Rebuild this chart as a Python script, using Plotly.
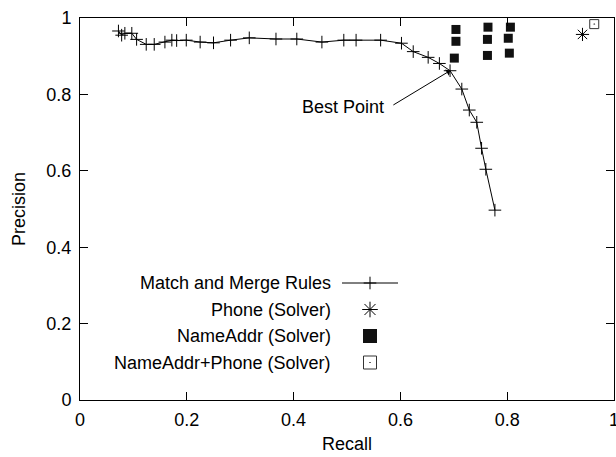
import plotly.graph_objects as go

# ---- data ----
mm_recall = [0.072, 0.078, 0.084, 0.097, 0.106, 0.124, 0.139, 0.159, 0.172, 0.181,
             0.199, 0.225, 0.250, 0.282, 0.317, 0.367, 0.406, 0.453, 0.494, 0.517,
             0.563, 0.602, 0.624, 0.652, 0.673, 0.693, 0.715, 0.729, 0.743, 0.752,
             0.760, 0.777]
mm_precision = [0.966, 0.955, 0.960, 0.960, 0.944, 0.931, 0.931, 0.937, 0.942, 0.941,
                0.942, 0.937, 0.935, 0.942, 0.948, 0.945, 0.945, 0.937, 0.942, 0.942,
                0.942, 0.934, 0.912, 0.897, 0.881, 0.862, 0.814, 0.759, 0.727, 0.659,
                0.604, 0.497]

phone_recall = [0.941]
phone_precision = [0.957]

nameaddr_recall = [0.704, 0.704, 0.701, 0.764, 0.763, 0.763, 0.806, 0.802, 0.804]
nameaddr_precision = [0.970, 0.939, 0.895, 0.976, 0.944, 0.902, 0.976, 0.947, 0.908]

both_recall = [0.963]
both_precision = [0.984]

best_recall = 0.693
best_precision = 0.862

legend_labels = ["Match and Merge Rules", "Phone (Solver)", "NameAddr (Solver)",
                 "NameAddr+Phone (Solver)"]
tick_vals = [0, 0.2, 0.4, 0.6, 0.8, 1]
tick_text = ["0", "0.2", "0.4", "0.6", "0.8", "1"]

FONT = "Liberation Sans, Arial, Helvetica, sans-serif"
FS = 18

fig = go.Figure()

fig.add_trace(go.Scatter(
    x=mm_recall, y=mm_precision, mode="lines+markers",
    line=dict(color="black", width=1),
    marker=dict(symbol="cross-thin-open", size=9, color="black",
                line=dict(color="black", width=1)),
    showlegend=False, cliponaxis=False))
fig.add_trace(go.Scatter(
    x=phone_recall, y=phone_precision, mode="markers",
    marker=dict(symbol="asterisk-open", size=11, color="black",
                line=dict(color="black", width=1)),
    showlegend=False, cliponaxis=False))
fig.add_trace(go.Scatter(
    x=nameaddr_recall, y=nameaddr_precision, mode="markers",
    marker=dict(symbol="square", size=9, color="#111111", line=dict(width=0)),
    showlegend=False, cliponaxis=False))
fig.add_trace(go.Scatter(
    x=both_recall, y=both_precision, mode="markers",
    marker=dict(symbol="square-open-dot", size=9, color="#333333",
                line=dict(color="#333333", width=1)),
    showlegend=False, cliponaxis=False))

# ---- custom gnuplot-style legend (text left, key right) on overlay axes ----
L, R, T, B = 80, 614, 18, 400
def px(xp):
    return (xp - L) / (R - L)
def py(yp):
    return (B - yp) / (B - T)

rows = [283, 309.5, 336, 362.5]
text_right = 333
key_x = 370
for lbl, yr in zip(legend_labels, rows):
    fig.add_annotation(x=px(text_right), y=py(yr), xref="paper", yref="paper",
                       text=lbl, showarrow=False, xanchor="right", yanchor="middle",
                       font=dict(family=FONT, size=FS, color="black"))

fig.add_shape(type="line", xref="paper", yref="paper",
              x0=px(342), x1=px(398), y0=py(rows[0]), y1=py(rows[0]),
              line=dict(color="black", width=1))
key_syms = [
    dict(symbol="cross-thin-open", size=9, color="black", line=dict(color="black", width=1)),
    dict(symbol="asterisk-open", size=13, color="black", line=dict(color="black", width=1)),
    dict(symbol="square", size=14, color="#111111", line=dict(width=0)),
    dict(symbol="square-open-dot", size=13, color="#333333", line=dict(color="#333333", width=1)),
]
for sym, yr in zip(key_syms, rows):
    fig.add_trace(go.Scatter(x=[px(key_x)], y=[py(yr)], mode="markers", marker=sym,
                             xaxis="x2", yaxis="y2", showlegend=False,
                             hoverinfo="skip"))

# ---- Best Point annotation ----
fig.add_annotation(x=px(386), y=py(107), xref="paper", yref="paper", text="Best Point",
                   showarrow=False, xanchor="right", yanchor="middle",
                   font=dict(family=FONT, size=FS, color="black"))
fig.add_annotation(x=best_recall, y=best_precision, xref="x", yref="y",
                   ax=0.584, ay=0.770, axref="x", ayref="y", text="",
                   showarrow=True, arrowhead=1, arrowsize=1.2, arrowwidth=1,
                   arrowcolor="black", standoff=0, startstandoff=0)

axis_common = dict(range=[0, 1], showgrid=False, zeroline=False, showline=True,
                   linecolor="black", linewidth=1, mirror="allticks",
                   ticks="inside", ticklen=8, tickwidth=1, tickcolor="black",
                   tickvals=tick_vals, ticktext=tick_text, automargin=False,
                   ticklabeloverflow="allow",
                   tickfont=dict(family=FONT, size=FS, color="black"))

fig.update_layout(
    width=616, height=457,
    margin=dict(l=L, r=616 - R, t=T, b=457 - B),
    paper_bgcolor="white", plot_bgcolor="white",
    font=dict(family=FONT, size=FS, color="black"),
    xaxis=dict(**axis_common, ticklabelstandoff=3,
               title=dict(text="Recall", standoff=8, font=dict(family=FONT, size=FS))),
    yaxis=dict(**axis_common, ticklabelstandoff=4,
               title=dict(text="Precision", standoff=16, font=dict(family=FONT, size=FS))),
    xaxis2=dict(range=[0, 1], overlaying="x", visible=False, fixedrange=True),
    yaxis2=dict(range=[0, 1], overlaying="y", visible=False, fixedrange=True),
    showlegend=False,
    hovermode=False,
)

fig.write_html("out.html", config={"displayModeBar": False},
               post_script="document.body.style.margin='0';document.body.style.overflow='hidden';")
